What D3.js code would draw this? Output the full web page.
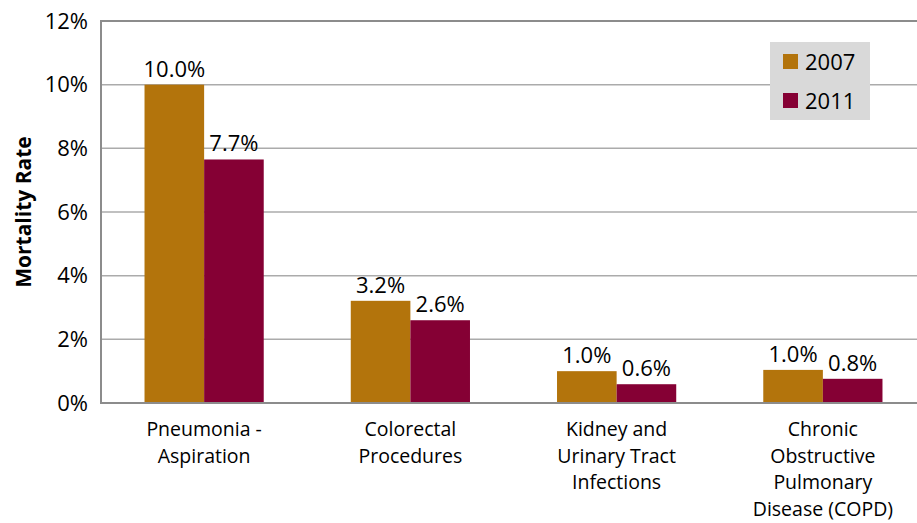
<!DOCTYPE html>
<html>
<head>
<meta charset="utf-8">
<script src="https://cdn.jsdelivr.net/npm/d3@7"></script>
<style>
  body { margin: 0; background: #fff; }
  svg { display: block; font-family: "Open Sans", "Noto Sans", sans-serif; }
</style>
</head>
<body>
<svg id="chart" width="917" height="523"></svg>
<script>
const categories = [
  ["Pneumonia -", "Aspiration"],
  ["Colorectal", "Procedures"],
  ["Kidney and", "Urinary Tract", "Infections"],
  ["Chronic", "Obstructive", "Pulmonary", "Disease (COPD)"]
];
const years = ["2007", "2011"];
const values2007 = [10.0, 3.21, 1.0, 1.04];
const values2011 = [7.65, 2.6, 0.59, 0.76];
const yTicks = [0, 2, 4, 6, 8, 10, 12];

const colors = { "2007": "#B3740C", "2011": "#850034" };

const svg = d3.select("#chart");
const plotLeft = 101, plotTop = 21, plotBottom = 403, plotRight = 926;

const x = d3.scaleBand()
  .domain(d3.range(categories.length))
  .range([plotLeft, plotRight])
  .paddingInner(0.422)
  .paddingOuter(0.211);

const xs = d3.scaleBand().domain(years).range([0, x.bandwidth()]);

const y = d3.scaleLinear().domain([0, 12]).range([plotBottom, plotTop]);

// gridlines
svg.append("g")
  .selectAll("line")
  .data(yTicks.filter(d => d > 0))
  .join("line")
  .attr("x1", plotLeft).attr("x2", plotRight)
  .attr("y1", d => y(d)).attr("y2", d => y(d))
  .attr("stroke", d => d === 12 ? "#8c8c8c" : "#ababab")
  .attr("stroke-width", d => d === 12 ? 2 : 1.5);

// y axis labels
const yAxis = d3.axisLeft(y).tickValues(yTicks).tickFormat(d => d + "%").tickSize(0).tickPadding(13);
svg.append("g")
  .attr("transform", `translate(${plotLeft},0)`)
  .call(yAxis)
  .call(g => g.select(".domain").remove())
  .selectAll("text")
  .attr("font-size", 22)
  .attr("font-family", "Open Sans, sans-serif")
  .attr("fill", "#000");

// bars
const rows = categories.map((c, i) => ({ i, v: { "2007": values2007[i], "2011": values2011[i] } }));
const groups = svg.append("g").selectAll("g")
  .data(rows)
  .join("g")
  .attr("transform", d => `translate(${x(d.i)},0)`);

groups.selectAll("rect")
  .data(d => years.map(yr => ({ yr, v: d.v[yr] })))
  .join("rect")
  .attr("x", d => xs(d.yr))
  .attr("width", xs.bandwidth())
  .attr("y", d => y(d.v))
  .attr("height", d => y(0) - y(d.v))
  .attr("fill", d => colors[d.yr]);

groups.selectAll("text.val")
  .data(d => years.map(yr => ({ yr, v: d.v[yr] })))
  .join("text")
  .attr("class", "val")
  .attr("x", d => xs(d.yr) + xs.bandwidth() / 2)
  .attr("y", d => y(d.v) - 8)
  .attr("text-anchor", "middle")
  .attr("font-size", 22)
  .text(d => d3.format(".1f")(d.v) + "%");

// axes lines
svg.append("line")
  .attr("x1", plotLeft).attr("x2", plotRight)
  .attr("y1", plotBottom).attr("y2", plotBottom)
  .attr("stroke", "#8c8c8c").attr("stroke-width", 2);
svg.append("line")
  .attr("x1", plotLeft).attr("x2", plotLeft)
  .attr("y1", plotTop - 1).attr("y2", plotBottom + 1)
  .attr("stroke", "#8c8c8c").attr("stroke-width", 2);

// category labels
groups.append("text")
  .attr("text-anchor", "middle")
  .attr("font-size", 19.5)
  .selectAll("tspan")
  .data(d => categories[d.i])
  .join("tspan")
  .attr("x", x.bandwidth() / 2)
  .attr("y", (d, j) => 436 + j * 26.5)
  .text(d => d);

// y title
svg.append("text")
  .attr("transform", `translate(31,${(plotTop + plotBottom) / 2}) rotate(-90)`)
  .attr("text-anchor", "middle")
  .attr("font-size", 21)
  .attr("font-weight", "bold")
  .text("Mortality Rate");

// legend
const lg = svg.append("g").attr("transform", "translate(770,42)");
lg.append("rect").attr("width", 100).attr("height", 78).attr("fill", "#d9d9d9");
years.forEach((yr, i) => {
  lg.append("rect").attr("x", 13).attr("y", 12 + i * 39).attr("width", 15).attr("height", 15).attr("fill", colors[yr]);
  lg.append("text").attr("x", 35).attr("y", 28 + i * 39).attr("font-size", 22).text(yr);
});
</script>
</body>
</html>
